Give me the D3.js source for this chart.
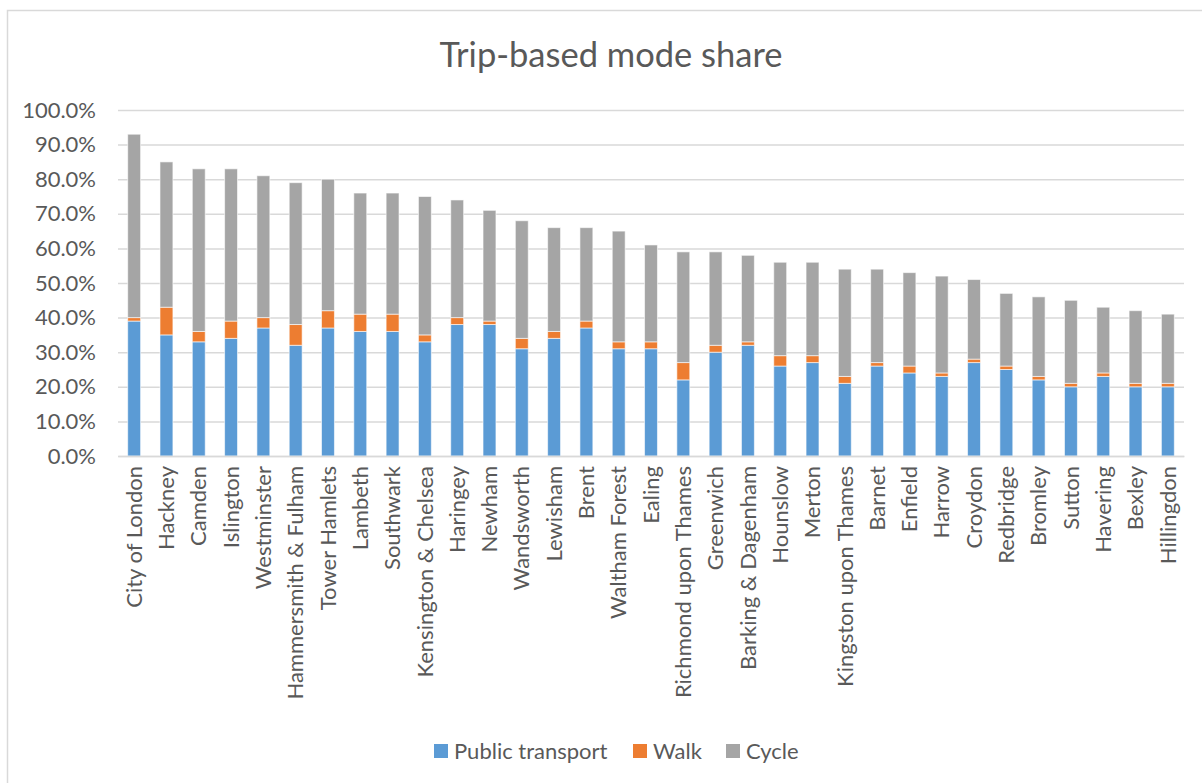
<!DOCTYPE html>
<html>
<head>
<meta charset="utf-8">
<script src="https://cdn.jsdelivr.net/npm/d3@7"></script>
<style>
  html, body { margin: 0; padding: 0; background: #fff; }
  svg { display: block; font-family: Lato, "Open Sans", sans-serif; }
</style>
</head>
<body>
<svg id="chart" width="1202" height="783"></svg>
<script>
const boroughs = ["City of London","Hackney","Camden","Islington","Westminster","Hammersmith & Fulham","Tower Hamlets","Lambeth","Southwark","Kensington & Chelsea","Haringey","Newham","Wandsworth","Lewisham","Brent","Waltham Forest","Ealing","Richmond upon Thames","Greenwich","Barking & Dagenham","Hounslow","Merton","Kingston upon Thames","Barnet","Enfield","Harrow","Croydon","Redbridge","Bromley","Sutton","Havering","Bexley","Hillingdon"];
const publicTransport = [39,35,33,34,37,32,37,36,36,33,38,38,31,34,37,31,31,22,30,32,26,27,21,26,24,23,27,25,22,20,23,20,20];
const walk =            [1,8,3,5,3,6,5,5,5,2,2,1,3,2,2,2,2,5,2,1,3,2,2,1,2,1,1,1,1,1,1,1,1];
const cycle =           [53,42,47,44,41,41,38,35,35,40,34,32,34,30,27,32,28,32,27,25,27,27,31,27,27,28,23,21,23,24,19,21,20];
const seriesNames = ["Public transport","Walk","Cycle"];
const seriesColors = ["#5b9bd5","#ed7d31","#a5a5a5"];
const yTicks = [0,10,20,30,40,50,60,70,80,90,100];

(function(){
const rows = boroughs.map((b,i) => ({borough: b, "Public transport": publicTransport[i], "Walk": walk[i], "Cycle": cycle[i]}));

const svg = d3.select("#chart");
const textColor = "#595959";
const gridColor = "#d9d9d9";

// chart border
svg.append("rect").attr("x",7.5).attr("y",10.5).attr("width",1202).attr("height",790)
  .attr("fill","none").attr("stroke","#d9d9d9").attr("stroke-width",1.5);

const pLeft = 118, pRight = 1184, pTop = 110, pBottom = 456;
const x = d3.scaleBand().domain(boroughs).range([pLeft,pRight]).paddingInner(0.6).paddingOuter(0.3);
const y = d3.scaleLinear().domain([0,100]).range([pBottom,pTop]);

// title
svg.append("text").attr("x",611).attr("y",67).attr("text-anchor","middle")
  .attr("font-size",34.5).attr("fill",textColor).text("Trip-based mode share");

// gridlines
const yAxis = d3.axisLeft(y).tickValues(yTicks).tickSize(-(pRight-pLeft)).tickFormat(d => d3.format(".1f")(d) + "%");
const gy = svg.append("g").attr("transform",`translate(${pLeft},0)`).call(yAxis);
gy.select(".domain").remove();
gy.selectAll(".tick line").attr("stroke",gridColor).attr("stroke-width",1.5);
gy.selectAll(".tick text").attr("x",-22).attr("fill",textColor).attr("font-size",22).attr("font-family","Lato, sans-serif");

// bars
const stacked = d3.stack().keys(seriesNames)(rows);
svg.append("g").selectAll("g").data(stacked).join("g")
  .attr("fill",(d,i) => seriesColors[i])
  .selectAll("rect").data(d => d).join("rect")
  .attr("x", d => x(d.data.borough))
  .attr("width", x.bandwidth())
  .attr("y", d => y(d[1]))
  .attr("height", d => y(d[0]) - y(d[1]))
  .attr("stroke","#ffffff").attr("stroke-opacity",0.6).attr("stroke-width",1);

// x axis
const xAxis = d3.axisBottom(x).tickSize(0).tickSizeOuter(0);
const gx = svg.append("g").attr("transform",`translate(0,${pBottom})`).call(xAxis);
gx.select(".domain").attr("stroke",gridColor).attr("stroke-width",1.5);
gx.selectAll(".tick text")
  .attr("transform","rotate(-90)")
  .attr("text-anchor","end")
  .attr("dy","0.35em").attr("x",-10).attr("y",0)
  .attr("fill",textColor).attr("font-size",22).attr("font-family","Lato, sans-serif");

// legend
const legendItems = [{name:"Public transport", sx:434},{name:"Walk", sx:633},{name:"Cycle", sx:726}];
const lg = svg.append("g");
legendItems.forEach((it,i) => {
  lg.append("rect").attr("x",it.sx).attr("y",744).attr("width",14).attr("height",14).attr("fill",seriesColors[i]);
  lg.append("text").attr("x",it.sx+20).attr("y",751).attr("dy","0.35em").attr("font-size",22)
    .attr("fill",textColor).text(it.name);
});
})();
</script>
</body>
</html>
